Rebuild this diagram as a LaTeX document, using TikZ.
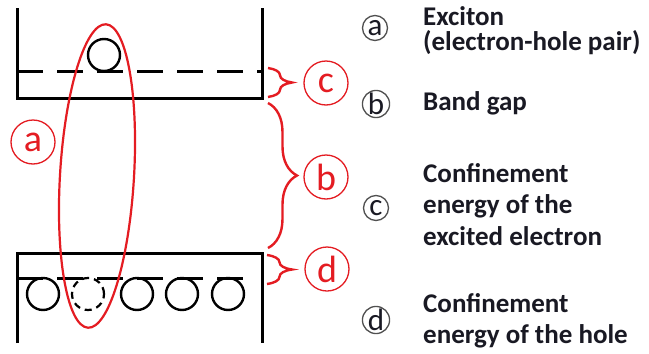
\documentclass[tikz,border=0pt]{standalone}
\usepackage{fontspec}
\setmainfont{Carlito}
\usetikzlibrary{decorations.pathreplacing}
\definecolor{exred}{RGB}{228,28,34}
\definecolor{legray}{RGB}{80,80,80}
\definecolor{txt}{RGB}{25,25,35}
\begin{document}
\begin{tikzpicture}[x=1pt,y=-1pt,
  wall/.style={line width=3pt, black, line join=miter},
  dashlevel/.style={line width=3pt, black, dash pattern=on 26pt off 14pt},
  particle/.style={line width=2.4pt, black},
  holep/.style={line width=2.2pt, black, dash pattern=on 7pt off 5pt},
  redline/.style={line width=2.2pt, exred},
  redbrace/.style={line width=2.4pt, exred, decorate},
  redcirc/.style={circle, draw=exred, line width=1.3pt, minimum size=44pt, inner sep=0pt, text=exred, font=\fontsize{38}{38}\selectfont},
  legcirc/.style={circle, draw=legray, line width=1.3pt, minimum size=25pt, inner sep=0pt, text=txt, font=\fontsize{31}{31}\selectfont},
  legtext/.style={anchor=base west, inner sep=0pt, text=txt, font=\fontsize{27}{30}\selectfont\bfseries}
]
\useasboundingbox (0,0) rectangle (649,354);
\fill[white] (0,0) rectangle (649,354);

% conduction band (upper well)
\draw[wall] (17,8) -- (17,98) -- (262,98) -- (262,8);
\draw[dashlevel] (17,71) -- (262,71);
\draw[particle] (104,55) circle [radius=16pt];

% valence band (lower well)
\draw[wall] (17,343) -- (17,253) -- (262,253) -- (262,343);
\draw[dashlevel] (17,278) -- (257,278);
\draw[particle] (43,294) circle [radius=16pt];
\draw[holep] (88,294) circle [radius=16pt];
\draw[particle] (137,294) circle [radius=16pt];
\draw[particle] (182,294) circle [radius=16pt];
\draw[particle] (228,294) circle [radius=16pt];

% exciton ellipse
\draw[redline, rotate around={-3.4:(97,176)}] (97,176) ellipse [x radius=37pt, y radius=152pt];

% red labels
\node[redcirc] (la) at (33,142) {a};
\node[redcirc] (lc) at (326,83) {c};
\node[redcirc] (lb) at (326,177) {b};
\node[redcirc] (ld) at (327,269) {d};

% braces
\draw[redbrace, decoration={brace, amplitude=24pt}] (268,68) -- (268,97);
\draw[redbrace, decoration={brace, amplitude=29pt}] (268,103) -- (268,248);
\draw[redbrace, decoration={brace, amplitude=25pt}] (267,255) -- (267,284);

% legend
\node[legcirc] (ka) at (375,28) {a};
\node[legcirc] (kb) at (376,104) {b};
\node[legcirc] (kc) at (376,208) {c};
\node[legcirc] (kd) at (376,320) {d};

\node[legtext] (ta1) at (423,25) {Exciton};
\node[legtext] (ta2) at (423,50) {(electron-hole pair)};
\node[legtext] (tb1) at (423,110) {Band gap};
\node[legtext] (tc1) at (423,182) {Confinement};
\node[legtext] (tc2) at (423,213) {energy of the};
\node[legtext] (tc3) at (423,245) {excited electron};
\node[legtext] (td1) at (423,312) {Confinement};
\node[legtext] (td2) at (423,343) {energy of the hole};
\end{tikzpicture}
\end{document}
